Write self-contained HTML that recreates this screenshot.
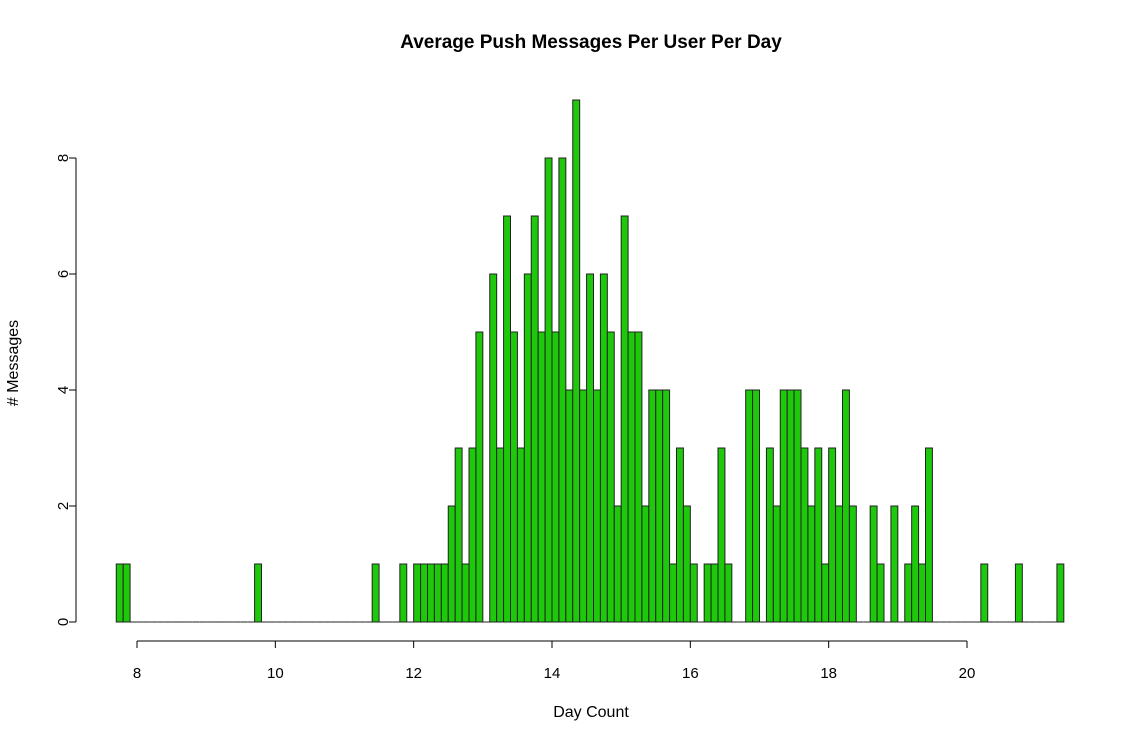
<!DOCTYPE html>
<html><head><meta charset="utf-8"><style>
body{margin:0;background:#fff}
svg{display:block;font-family:"Liberation Sans",Arial,sans-serif}
</style></head><body>
<svg id="chart" width="1144" height="741" xmlns="http://www.w3.org/2000/svg">
<text x="591" y="48" text-anchor="middle" font-size="19" font-weight="bold">Average Push Messages Per User Per Day</text>
<text x="591" y="717" text-anchor="middle" font-size="16">Day Count</text>
<text transform="translate(18,363) rotate(-90)" text-anchor="middle" font-size="16"># Messages</text>
<g id="bars"></g>
<g id="xaxis"></g>
<g id="yaxis"></g>
</svg>
<script>
const binStart = 7.7;
const binWidth = 0.1;
const counts = [1,1,
0,0,0,0,0,0,0,0,0,0,0,0,0,0,0,0,0,0,
1,
0,0,0,0,0,0,0,0,0,0,0,0,0,0,0,0,
1,0,0,0,1,0,
1,1,1,1,1,2,3,1,3,5,0,
6,3,7,5,3,6,7,5,8,5,8,4,9,4,6,4,6,5,2,
7,5,5,2,4,4,4,1,3,2,1,0,1,1,3,1,0,0,4,4,0,3,2,4,4,4,3,2,3,1,3,2,4,2,
0,0,2,1,0,2,0,1,2,1,3,
0,0,0,0,0,0,0,1,0,0,0,0,1,0,0,0,0,0,1];
const xTicks = [8,10,12,14,16,18,20];
const yTicks = [0,2,4,6,8];

const NS = "http://www.w3.org/2000/svg";
function X(v){ return 137 + (v - 8) * (830/12); }
function Y(v){ return 622 - v * 58; }
function mk(tag, attrs, parent){ const e=document.createElementNS(NS,tag); for(const k in attrs) e.setAttribute(k,attrs[k]); parent.appendChild(e); return e; }

const bars = document.getElementById('bars');
counts.forEach((c,i)=>{
  const x0 = X(binStart + i*binWidth), x1 = X(binStart + (i+1)*binWidth);
  let r;
  if (c > 0) {
    r = mk('rect',{x:x0, y:Y(c), width:x1-x0, height:Y(0)-Y(c), fill:'#1ec80a', stroke:'#222', 'stroke-width':1}, bars);
  } else {
    r = mk('line',{x1:x0, x2:x1, y1:Y(0), y2:Y(0), stroke:'#222', 'stroke-width':1}, bars);
  }
  
  
});

const xa = document.getElementById('xaxis');
mk('line',{x1:X(xTicks[0]),x2:X(xTicks[xTicks.length-1]),y1:641,y2:641,stroke:'#000'},xa);
xTicks.forEach(t=>{
  mk('line',{x1:X(t),x2:X(t),y1:641,y2:648,stroke:'#000'},xa);
  const tx = mk('text',{x:X(t),y:678,'text-anchor':'middle','font-size':15},xa);
  tx.textContent = t;
  
  
});

const ya = document.getElementById('yaxis');
mk('line',{x1:76,x2:76,y1:Y(yTicks[yTicks.length-1]),y2:Y(yTicks[0]),stroke:'#000'},ya);
yTicks.forEach(t=>{
  mk('line',{x1:69,x2:76,y1:Y(t),y2:Y(t),stroke:'#000'},ya);
  const tx = mk('text',{transform:`translate(68,${Y(t)}) rotate(-90)`,'text-anchor':'middle','font-size':15},ya);
  tx.textContent = t;
  
  
});
</script>
</body></html>
